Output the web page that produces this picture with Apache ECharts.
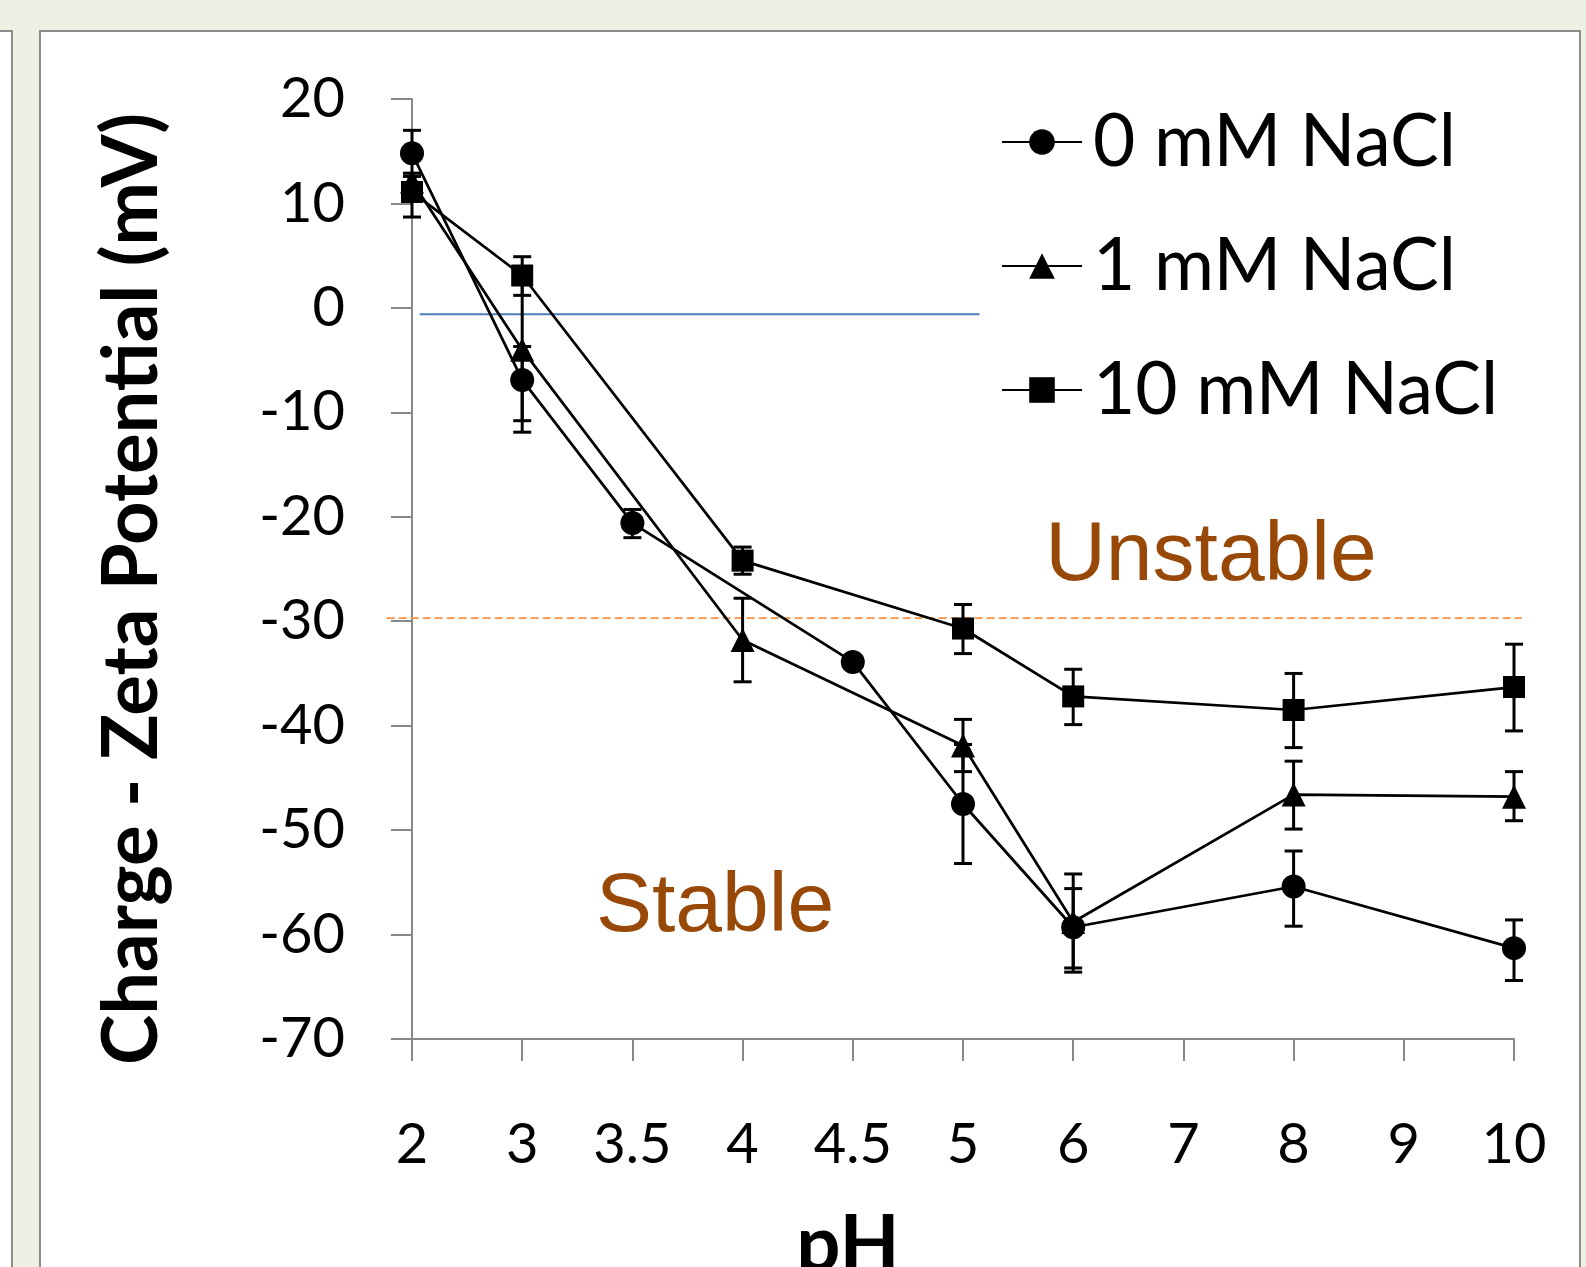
<!DOCTYPE html>
<html>
<head>
<meta charset="utf-8">
<script src="https://cdn.jsdelivr.net/npm/echarts@6/dist/echarts.min.js"></script>
<style>
html,body{margin:0;padding:0;background:#EDF0E2;}
#c{width:1586px;height:1267px;}
</style>
</head>
<body>
<div id="c"></div>
<script>
// pH categories (equally spaced on the axis)
const categories = ['2', '3', '3.5', '4', '4.5', '5', '6', '7', '8', '9', '10'];
const yTicks = { min: -70, max: 20, interval: 10 };

// 0 mM NaCl
const nacl0     = [14.8, -6.9, -20.6, null, -33.9, -47.5, -59.3, null, -55.4, null, -61.3];
const nacl0Low  = [12.6, -11.9, -22.0, null, -34.3, -53.2, -63.2, null, -59.2, null, -64.4];
const nacl0High = [17.0, -3.7, -19.3, null, -33.5, -41.8, -55.6, null, -52.0, null, -58.6];
// 1 mM NaCl
const nacl1     = [12.1, -4.0, null, -31.8, null, -41.9, -58.8, null, -46.6, null, -46.8];
const nacl1Low  = [11.3, -10.8, null, -35.8, null, -44.4, -63.6, null, -49.9, null, -49.1];
const nacl1High = [12.9, 2.8, null, -27.8, null, -39.4, -54.2, null, -43.4, null, -44.4];
// 10 mM NaCl
const nacl10     = [11.1, 3.1, null, -24.2, null, -30.7, -37.2, null, -38.5, null, -36.3];
const nacl10Low  = [8.7, 1.2, null, -25.5, null, -33.1, -39.9, null, -42.1, null, -40.5];
const nacl10High = [12.6, 4.9, null, -22.9, null, -28.4, -34.6, null, -35.0, null, -32.2];

const seriesNames = ['0 mM NaCl', '1 mM NaCl', '10 mM NaCl'];
// reference lines: [x from (category index), x to, y value]
const zeroRefLine = [0.07, 5.15, -0.6];
const stabilityLine = [-0.23, 10.07, -29.7];
// region labels: [x (category index), y value, text]
const regionLabels = [[7.25, -23.8, 'Unstable'], [2.75, -57.4, 'Stable']];

const FONT = 'Lato, "Open Sans", sans-serif';

function toXY(vals) { return vals.map((v, i) => [i, v]); }
function toErr(lo, hi) {
  const out = [];
  lo.forEach((l, i) => { if (l != null && hi[i] != null) out.push([i, l, hi[i]]); });
  return out;
}

function errorRender(params, api) {
  const x = api.value(0);
  const p1 = api.coord([x, api.value(2)]);
  const p2 = api.coord([x, api.value(1)]);
  const w = 9;
  const st = { stroke: '#000', lineWidth: 3 };
  return {
    type: 'group',
    children: [
      { type: 'line', shape: { x1: p1[0], y1: p1[1], x2: p2[0], y2: p2[1] }, style: st },
      { type: 'line', shape: { x1: p1[0] - w, y1: p1[1], x2: p1[0] + w, y2: p1[1] }, style: st },
      { type: 'line', shape: { x1: p2[0] - w, y1: p2[1], x2: p2[0] + w, y2: p2[1] }, style: st }
    ]
  };
}

function refLineRender(color, dash, width) {
  return function (params, api) {
    const a = api.coord([api.value(0), api.value(2)]);
    const b = api.coord([api.value(1), api.value(2)]);
    return {
      type: 'line',
      shape: { x1: a[0], y1: a[1], x2: b[0], y2: b[1] },
      style: { stroke: color, lineWidth: width, lineDash: dash }
    };
  };
}

const chart = echarts.init(document.getElementById('c'), null, { renderer: 'canvas' });

const lineSeries = [
  { name: seriesNames[0], vals: nacl0, symbol: 'circle', size: 24 },
  { name: seriesNames[1], vals: nacl1, symbol: 'triangle', size: 24 },
  { name: seriesNames[2], vals: nacl10, symbol: 'rect', size: 22 }
].map(s => ({
  name: s.name,
  type: 'line',
  data: toXY(s.vals),
  connectNulls: true,
  symbol: s.symbol,
  symbolSize: s.size,
  showAllSymbol: true,
  lineStyle: { color: '#000', width: 2.75 },
  itemStyle: { color: '#000' },
  z: 5,
  animation: false
}));

const errSeries = [
  [nacl0Low, nacl0High], [nacl1Low, nacl1High], [nacl10Low, nacl10High]
].map((p, i) => ({
  name: seriesNames[i] + ' error',
  type: 'custom',
  data: toErr(p[0], p[1]),
  renderItem: errorRender,
  encode: { x: 0, y: [1, 2] },
  z: 4,
  silent: true,
  animation: false
}));

const option = {
  backgroundColor: '#EDF0E2',
  animation: false,
  graphic: [
    { type: 'rect', z: -10, shape: { x: -10, y: 31, width: 22, height: 1300 },
      style: { fill: '#fff', stroke: '#8C8C8C', lineWidth: 2 } },
    { type: 'rect', z: -10, shape: { x: 40, y: 31, width: 1540, height: 1300 },
      style: { fill: '#fff', stroke: '#8C8C8C', lineWidth: 2 } }
  ],
  grid: { left: 412, right: 72, top: 99, bottom: 228, containLabel: false, outerBoundsMode: 'none' },
  legend: {
    data: seriesNames,
    orient: 'vertical',
    left: 1001,
    top: 105,
    itemWidth: 80,
    itemHeight: 32,
    itemGap: 50,
    padding: 0,
    textStyle: { fontFamily: FONT, fontSize: 73, color: '#000', lineHeight: 74, padding: [0, 0, 0, 6] }
  },
  xAxis: {
    type: 'value',
    min: 0,
    max: categories.length - 1,
    interval: 1,
    name: 'pH',
    nameLocation: 'middle',
    nameGap: 168,
    nameTextStyle: { fontFamily: FONT, fontSize: 78, fontWeight: 'bold', color: '#000', padding: [0, 230, 0, 0] },
    axisLine: { onZero: false, lineStyle: { color: '#888', width: 2 } },
    axisTick: { show: true, inside: false, length: 22, lineStyle: { color: '#888', width: 2 } },
    axisLabel: {
      margin: 78,
      fontFamily: FONT, fontSize: 56, color: '#000',
      formatter: v => categories[v] ?? ''
    },
    splitLine: { show: false }
  },
  yAxis: {
    type: 'value',
    min: yTicks.min,
    max: yTicks.max,
    interval: yTicks.interval,
    name: 'Charge - Zeta Potential (mV)',
    nameLocation: 'middle',
    nameGap: 242,
    nameRotate: 90,
    nameTextStyle: { fontFamily: FONT, fontSize: 76, fontWeight: 'bold', color: '#000', padding: [0, 40, 0, 0] },
    axisLine: { show: true, lineStyle: { color: '#888', width: 2 } },
    axisTick: { show: true, inside: false, length: 21, lineStyle: { color: '#888', width: 2 } },
    axisLabel: { margin: 67, fontFamily: FONT, fontSize: 56, color: '#000' },
    splitLine: { show: false }
  },
  series: [
    {
      name: 'zero reference', type: 'custom', data: [zeroRefLine],
      renderItem: refLineRender('#4A7EBB', null, 2), encode: { x: [0, 1], y: 2 },
      z: 1, silent: true, clip: false
    },
    {
      name: 'stability threshold', type: 'custom', data: [stabilityLine],
      renderItem: refLineRender('#F59342', [8, 4], 1.75), encode: { x: [0, 1], y: 2 },
      z: 1, silent: true, clip: false
    },
    {
      name: 'region labels', type: 'custom', data: regionLabels,
      renderItem: function (params, api) {
        const p = api.coord([api.value(0), api.value(1)]);
        return {
          type: 'text',
          x: p[0], y: p[1],
          style: {
            text: regionLabels[params.dataIndex][2],
            fill: '#984807',
            font: '84px "Liberation Sans", Arial, sans-serif',
            align: 'center',
            verticalAlign: 'middle'
          }
        };
      },
      encode: { x: 0, y: 1 },
      z: 1, silent: true, clip: false
    },
    ...errSeries,
    ...lineSeries
  ]
};

chart.setOption(option);
</script>
</body>
</html>
